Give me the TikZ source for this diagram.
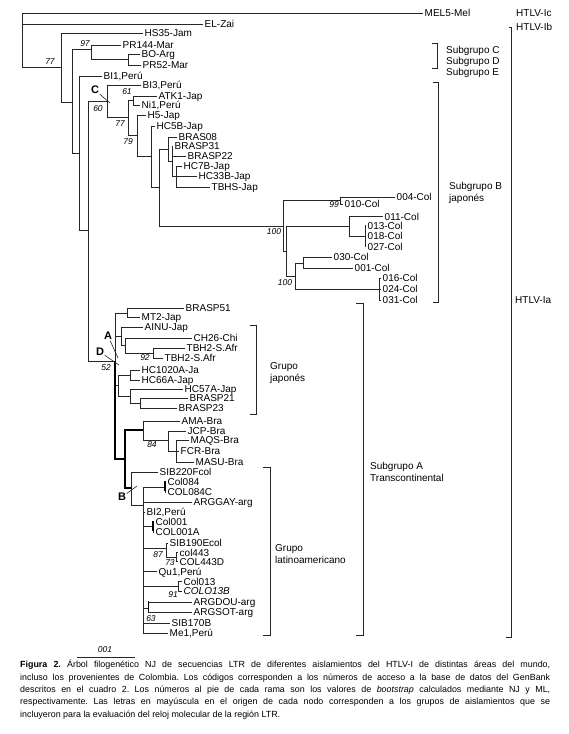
\documentclass[tikz,border=0pt]{standalone}
\usepackage{fontspec}
\setmainfont{Liberation Sans}
\frenchspacing
\begin{document}
\begin{tikzpicture}[x=1pt, y=-1pt,
  br/.style={draw=black!85, line width=0.6pt},
  thk/.style={draw=black, line width=1.3pt},
  leaf/.style={anchor=west, inner xsep=1.5pt, inner ysep=0pt, text height=7pt, text depth=0pt, font=\fontsize{10}{10}\selectfont},
  bs/.style={inner sep=0pt, font=\fontsize{8.5}{8.5}\selectfont\itshape},
  ltr/.style={inner sep=0.5pt, font=\fontsize{11}{11}\selectfont\bfseries},
  grp/.style={anchor=west, align=left, inner sep=0pt, font=\fontsize{10}{11.5}\selectfont}
]
\useasboundingbox (0,0) rectangle (568,734);
% outgroups and upper part
\coordinate (r) at (22,40);
\node[leaf] (mel) at (423,13) {MEL5-Mel};
\node[leaf] (ez) at (203,24) {EL-Zai};
\coordinate (n77) at (61,67);
\node[leaf] (hs35) at (143,33) {HS35-Jam};
\coordinate (nA) at (72.7,102);
\coordinate (n97) at (91,49);
\node[leaf] (pr144) at (121,45) {PR144-Mar};
\coordinate (nBO) at (128,59);
\node[leaf] (bo) at (140,54) {BO-Arg};
\node[leaf] (pr52) at (141,65) {PR52-Mar};
\coordinate (nB) at (79.3,153);
\node[leaf] (bi1) at (102,76) {BI1,Perú};
\coordinate (nC) at (88.3,230);
\coordinate (nCC) at (107.7,101);
\node[leaf] (bi3) at (141,85) {BI3,Perú};
\coordinate (n77b) at (128,117);
\coordinate (n61) at (133,100.5);
\node[leaf] (atk1) at (157,96) {ATK1-Jap};
\node[leaf] (ni1) at (140,105) {Ni1,Perú};
\coordinate (n79) at (137,135);
\node[leaf] (h5) at (146,115) {H5-Jap};
\coordinate (nHC) at (151,156);
\node[leaf] (hc5b) at (155,126) {HC5B-Jap};
\coordinate (nBig) at (159.3,187);
\coordinate (nBR) at (168,149);
\node[leaf] (bras08) at (177,137) {BRAS08};
\coordinate (nBR2) at (172,161);
\node[leaf] (bp31) at (173,146) {BRASP31};
\node[leaf] (bp22) at (186,156) {BRASP22};
\coordinate (nBR3) at (176,176);
\node[leaf] (hc7b) at (182,166) {HC7B-Jap};
\node[leaf] (hc33b) at (197,176) {HC33B-Jap};
\node[leaf] (tbhs) at (210,187) {TBHS-Jap};
% Colombian clade
\coordinate (nCol) at (283,226);
\coordinate (n99) at (340.7,200.7);
\node[leaf] (c004) at (395,197) {004-Col};
\node[leaf] (c010) at (343,204) {010-Col};
\coordinate (nJ) at (286,251);
\coordinate (nK1) at (349,226);
\node[leaf] (c011) at (383,216.7) {011-Col};
\coordinate (nK2) at (365,236);
\node[leaf] (c013) at (366,225.5) {013-Col};
\node[leaf] (c018) at (366,236) {018-Col};
\node[leaf] (c027) at (366,246.5) {027-Col};
\coordinate (nK) at (295,276);
\coordinate (nL) at (303,263);
\node[leaf] (c030) at (332,257) {030-Col};
\node[leaf] (c001) at (353,268) {001-Col};
\coordinate (nM) at (379,289);
\node[leaf] (c016) at (381,278) {016-Col};
\node[leaf] (c024) at (381,289) {024-Col};
\node[leaf] (c031) at (381,300) {031-Col};
% transcontinental clade
\coordinate (nAD) at (115,361);
\coordinate (nMT) at (127,313);
\node[leaf] (bp51) at (184,308) {BRASP51};
\node[leaf] (mt2) at (140,317) {MT2-Jap};
\coordinate (nAI) at (121.7,336);
\node[leaf] (ainu) at (143,327) {AINU-Jap};
\coordinate (nCH) at (125,345.5);
\node[leaf] (ch26) at (192,338) {CH26-Chi};
\coordinate (n92) at (153.3,353);
\node[leaf] (tbh2a) at (185,348) {TBH2-S.Afr};
\node[leaf] (tbh2b) at (163,358) {TBH2-S.Afr};
\coordinate (nJ2) at (118.3,385.5);
\coordinate (nHC10) at (130,375);
\node[leaf] (hc1020) at (140,370) {HC1020A-Ja};
\node[leaf] (hc66) at (140,380) {HC66A-Jap};
\coordinate (nHC57) at (130,396);
\node[leaf] (hc57) at (183,389) {HC57A-Jap};
\coordinate (nBRs) at (140,403);
\node[leaf] (bp21) at (188,398) {BRASP21};
\node[leaf] (bp23) at (177,408) {BRASP23};
\coordinate (nLB) at (125,459);
\coordinate (nBra) at (143.3,430);
\node[leaf] (ama) at (180,421) {AMA-Bra};
\coordinate (n84) at (168.3,440);
\node[leaf] (jcp) at (186,431) {JCP-Bra};
\coordinate (nMQ) at (176,451);
\node[leaf] (maqs) at (189,440) {MAQS-Bra};
\node[leaf] (fcr) at (179,451) {FCR-Bra};
\node[leaf] (masu) at (194,462) {MASU-Bra};
\coordinate (nBn) at (131.7,488);
\node[leaf] (sib220) at (158,472) {SIB220Fcol};
\coordinate (nLat) at (143.3,505);
\coordinate (nC84) at (165,487);
\node[leaf] (col084) at (166,482) {Col084};
\node[leaf] (col084c) at (166,492) {COL084C};
\node[leaf] (arggay) at (192,502) {ARGGAY-arg};
\node[leaf] (bi2) at (145,512) {BI2,Perú};
\coordinate (nC01) at (153,526);
\node[leaf] (col001) at (154,522) {Col001};
\node[leaf] (col001a) at (154,532) {COL001A};
\coordinate (n87) at (166,548);
\node[leaf] (sib190) at (168,543) {SIB190Ecol};
\coordinate (n73) at (176,557);
\node[leaf] (col443) at (178,552.5) {col443};
\node[leaf] (col443d) at (178,561.5) {COL443D};
\node[leaf] (qu1) at (157,571.5) {Qu1,Perú};
\coordinate (nC13) at (178.3,586.5);
\node[leaf] (col013) at (182,581.5) {Col013};
\node[leaf, font=\fontsize{10}{10}\selectfont\itshape] (colo13b) at (182,591) {COLO13B};
\coordinate (n63) at (148.3,608);
\node[leaf] (argdou) at (192,602) {ARGDOU-arg};
\node[leaf] (argsot) at (192,612) {ARGSOT-arg};
\node[leaf] (sib170) at (170,623) {SIB170B};
\node[leaf] (me1) at (168,633) {Me1,Perú};
% branches
\foreach \p/\c in {r/mel, r/ez, r/n77, n77/hs35, n77/nA, nA/n97, nA/nB, n97/pr144, n97/nBO,
    nBO/bo, nBO/pr52, nB/bi1, nB/nC, nC/nCC, nC/nAD, nCC/bi3, nCC/n77b, n77b/n61, n77b/n79,
    n61/atk1, n61/ni1, n79/h5, n79/nHC, nHC/hc5b, nHC/nBig, nBig/nBR, nBig/nCol, nBR/bras08,
    nBR/nBR2, nBR2/bp31, nBR2/bp22, nBR2/nBR3, nBR3/hc7b, nBR3/hc33b, nBR3/tbhs, nCol/n99,
    nCol/nJ, n99/c004, n99/c010, nJ/nK1, nJ/nK, nK1/c011, nK1/nK2, nK2/c013, nK2/c018,
    nK2/c027, nK/nL, nK/nM, nL/c030, nL/c001, nM/c016, nM/c024, nM/c031,
    nAD/nMT, nAD/nAI, nAD/nJ2, nMT/bp51, nMT/mt2, nAI/ainu, nAI/nCH, nCH/ch26, nCH/n92,
    n92/tbh2a, n92/tbh2b, nJ2/nHC10, nJ2/nHC57, nHC10/hc1020, nHC10/hc66, nHC57/hc57,
    nHC57/nBRs, nBRs/bp21, nBRs/bp23, nBra/ama, nBra/n84, n84/jcp, n84/nMQ, nMQ/maqs,
    nMQ/fcr, nMQ/masu, nBn/sib220, nBn/nLat, nLat/nC84, nLat/arggay, nLat/bi2, nLat/nC01,
    nLat/n87, nLat/qu1, nLat/nC13, nLat/n63, nLat/sib170, nLat/me1, nC84/col084,
    nC84/col084c, nC01/col001, nC01/col001a, n87/sib190, n87/n73, n73/col443, n73/col443d,
    nC13/col013, nC13/colo13b, n63/argdou, n63/argsot}
  \draw[br] (\p) |- (\c);
\foreach \p/\c in {nAD/nLB, nLB/nBra, nLB/nBn}
  \draw[thk] (\p) |- (\c);
\foreach \n/\a/\b in {nC84/482/492, nC01/522/532, n63/602/612}
  \draw[thk] ([yshift=-\a+1]\n |- 0,0) -- ([yshift=-\b+1]\n |- 0,0);
% bootstrap values
\node[bs] (b77) at (50,62) {77};
\node[bs] (b97) at (85,44) {97};
\node[bs] (b60) at (98,109) {60};
\node[bs] (b61) at (127,92) {61};
\node[bs] (b77b) at (120,124) {77};
\node[bs] (b79) at (128,142) {79};
\node[bs] (b99) at (334,205) {99};
\node[bs] (b100a) at (274,232) {100};
\node[bs] (b100b) at (285,283) {100};
\node[bs] (b52) at (106,368) {52};
\node[bs] (b92) at (145,358) {92};
\node[bs] (b84) at (152,445) {84};
\node[bs] (b87) at (158,555) {87};
\node[bs] (b73) at (170,562.5) {73};
\node[bs] (b91) at (173,595) {91};
\node[bs] (b63) at (151,619) {63};
% node letters
\node[ltr] (lC) at (95,90) {C};
\node[ltr] (lA) at (108,336) {A};
\node[ltr] (lD) at (100,352) {D};
\node[ltr] (lB) at (122,497) {B};
\coordinate (pC) at (110,103);
\coordinate (pA) at (118,358);
\coordinate (pD) at (119,365);
\coordinate (pB) at (137,486);
\draw[br] (lC) -- (pC);
\draw[br] (lA) -- (pA);
\draw[br] (lD) -- (pD);
\draw[br] (lB) -- (pB);
% groups
\node[grp] (tIc) at (516,13) {HTLV-Ic};
\node[grp] (tIb) at (516,27) {HTLV-Ib};
\node[grp] (tIa) at (515,300) {HTLV-Ia};
\draw[br] (509,27) -- (511,27) -- (511,637) -- (506,637);
\draw[br] (432,43) -- (437,43) -- (437,68) -- (432,68);
\node[grp] (sC) at (446,51) {Subgrupo C};
\node[grp] (sD) at (446,62) {Subgrupo D};
\node[grp] (sE) at (446,73) {Subgrupo E};
\draw[br] (433,82) -- (438,82) -- (438,302) -- (433,302);
\node[grp] (sB) at (449,193) {Subgrupo B\\japonés};
\draw[br] (356,303) -- (363,303) -- (363,635) -- (356,635);
\node[grp] (sA) at (370,472) {Subgrupo A\\Transcontinental};
\draw[br] (250,325) -- (256,325) -- (256,414) -- (250,414);
\node[grp] (gJ) at (270,373) {Grupo\\japonés};
\draw[br] (263,467) -- (270,467) -- (270,635) -- (263,635);
\node[grp] (gL) at (275,554) {Grupo\\latinoamericano};
% scale bar
\coordinate (s0) at (77,657);
\coordinate (s1) at (135,657);
\draw[br] (s0) -- (s1);
\node[bs] (sl) at (105,650) {001};
% caption
\node[anchor=north west, inner sep=0pt, text width=530pt, align=justify, font=\fontsize{8.9}{12.3}\selectfont] (cap) at (20,660)
  {\textbf{Figura 2.} Árbol filogenético NJ de secuencias LTR de diferentes aislamientos del HTLV-I de distintas áreas del mundo,\linebreak
  incluso los provenientes de Colombia. Los códigos corresponden a los números de acceso a la base de datos del GenBank\linebreak
  descritos en el cuadro 2. Los números al pie de cada rama son los valores de \textit{bootstrap} calculados mediante NJ y ML,\linebreak
  respectivamente. Las letras en mayúscula en el origen de cada nodo corresponden a los grupos de aislamientos que se\linebreak
  incluyeron para la evaluación del reloj molecular de la región LTR.};
\end{tikzpicture}
\end{document}
